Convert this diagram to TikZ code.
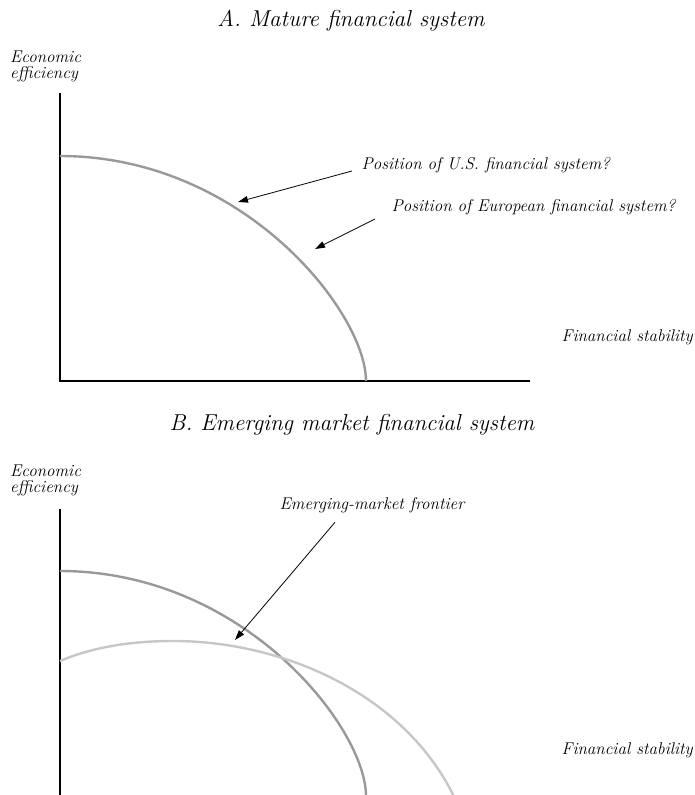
\documentclass[tikz,border=0pt]{standalone}
\usepackage{fontspec}
\usetikzlibrary{arrows.meta}

\begin{document}
\begin{tikzpicture}[x=1pt,y=-1pt,>={Triangle[length=10pt,width=6.5pt]},
  lbl/.style={font=\fontsize{17}{16}\selectfont\itshape\addfontfeatures{LetterSpace=5}},
  ttl/.style={font=\fontsize{23}{24}\selectfont\itshape\addfontfeatures{LetterSpace=26}},
  axis/.style={line width=1.6pt},
  frontier/.style={line width=2.4pt,black!40},
  pointer/.style={->,line width=0.8pt}]
  \clip (0,0) rectangle (695,795);
  % panel A
  \node[ttl] (titleA) at (351,21) {A. Mature financial system};
  \node[lbl,align=left,anchor=north west,inner sep=0pt] (effA) at (10,51) {Economic\\efficiency};
  \node[lbl,anchor=east,inner sep=1pt] (stabA) at (694,337) {Financial stability};
  \draw[axis] (60,93) -- (60,381) -- (530,381);
  \draw[frontier] (60,156) .. controls (244,156) and (366,313) .. (366,381);
  \node[lbl,anchor=west] (usA) at (358,165) {Position of U.S. financial system?};
  \node[lbl,anchor=west] (euA) at (388,207) {Position of European financial system?};
  \coordinate (usP) at (238,202);
  \coordinate (euP) at (315,249);
  \draw[pointer] ([shift={(-6pt,-6pt)}]usA.west) -- (usP);
  \draw[pointer] ([shift={(-13pt,-12pt)}]euA.west) -- (euP);
  % panel B
  \node[ttl] (titleB) at (352,425) {B. Emerging market financial system};
  \node[lbl,align=left,anchor=north west,inner sep=0pt] (effB) at (10,465) {Economic\\efficiency};
  \node[lbl,anchor=east,inner sep=1pt] (stabB) at (694,750) {Financial stability};
  \draw[axis] (60,509) -- (60,800);
  \draw[frontier] (60,571) .. controls (244,571) and (366,728) .. (366,796);
  \draw[frontier,black!22] (60,661) .. controls (95,646) and (135,641) .. (173,641)
    .. controls (290,641) and (415,700) .. (460,810);
  \node[lbl] (emB) at (372,505) {Emerging-market frontier};
  \coordinate (emP) at (235,640);
  \draw[pointer] ([shift={(-37pt,-6pt)}]emB.south) -- (emP);
\end{tikzpicture}
\end{document}
